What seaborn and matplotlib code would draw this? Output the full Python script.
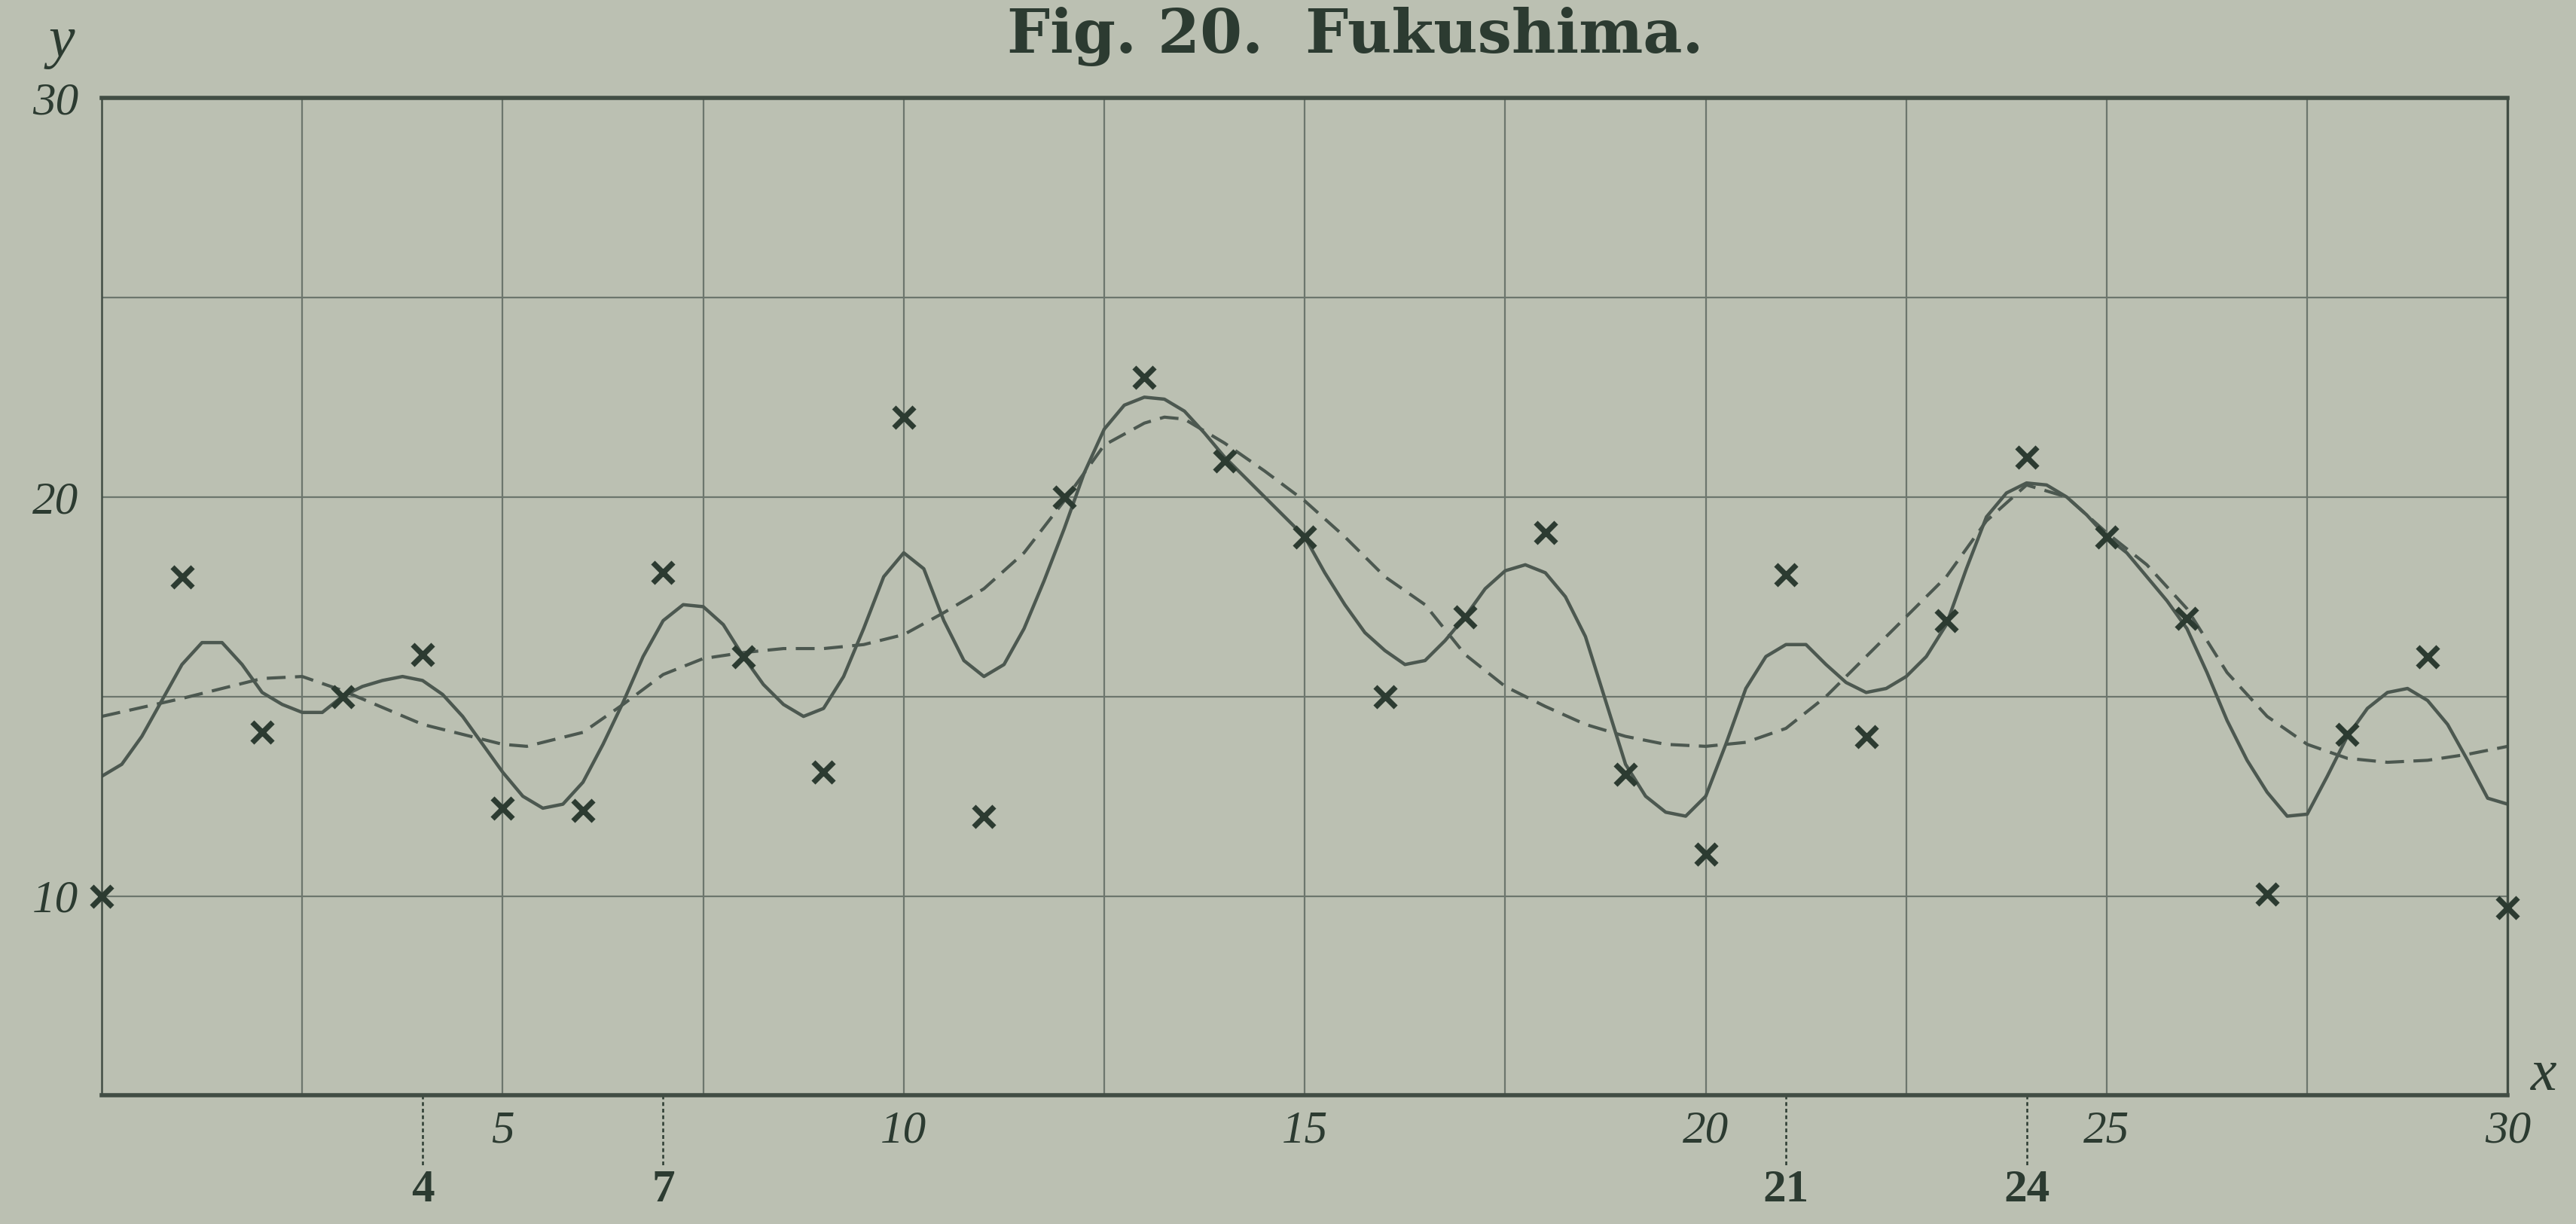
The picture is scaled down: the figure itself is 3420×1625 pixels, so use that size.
import numpy as np
import matplotlib
matplotlib.use("Agg")
import matplotlib.pyplot as plt
import seaborn as sns

# ------------------------------------------------------------
# Fig. 20 Fukushima -- observations (x) with two fitted curves
# ------------------------------------------------------------

obs_x = list(range(0, 31))
obs_y = [10.0, 18.0, 14.1, 15.0, 16.05, 12.2, 12.15, 18.1, 16.0, 13.1,
         22.0, 12.0, 20.0, 23.0, 20.9, 19.0, 15.0, 17.0, 19.1, 13.05,
         11.05, 18.05, 14.0, 16.9, 21.0, 19.0, 16.95, 10.05, 14.05, 16.0, 9.7]

# solid curve, read every quarter unit
solid_x = [i * 0.25 for i in range(121)]
solid_y = [13.0, 13.3, 14.0, 14.9, 15.8, 16.35, 16.35, 15.8, 15.1, 14.8,
           14.6, 14.6, 15.0, 15.25, 15.4, 15.5, 15.4, 15.05, 14.5, 13.8,
           13.1, 12.5, 12.2, 12.3, 12.85, 13.8, 14.85, 16.0, 16.9, 17.3,
           17.25, 16.8, 16.0, 15.3, 14.8, 14.5, 14.7, 15.5, 16.7, 18.0,
           18.6, 18.2, 16.9, 15.9, 15.5, 15.8, 16.7, 17.9, 19.2, 20.6,
           21.7, 22.3, 22.5, 22.45, 22.15, 21.6, 21.0, 20.5, 20.0, 19.5,
           19.0, 18.1, 17.3, 16.6, 16.15, 15.8, 15.9, 16.4, 17.0, 17.7,
           18.15, 18.3, 18.1, 17.5, 16.5, 14.9, 13.3, 12.5, 12.1, 12.0,
           12.5, 13.8, 15.2, 16.0, 16.3, 16.3, 15.8, 15.35, 15.1, 15.2,
           15.5, 16.0, 16.8, 18.2, 19.5, 20.1, 20.35, 20.3, 20.0, 19.55,
           19.0, 18.6, 18.0, 17.4, 16.7, 15.6, 14.4, 13.4, 12.6, 12.0,
           12.05, 13.0, 14.0, 14.7, 15.1, 15.2, 14.9, 14.3, 13.4, 12.45,
           12.3]

# dashed curve
dashed_x = [0, 1, 2, 2.5, 3, 4, 5, 5.3, 6, 6.5, 7, 7.5, 8, 8.5, 9, 9.5,
            10, 10.5, 11, 11.5, 12, 12.5, 13, 13.25, 13.5, 14, 14.5, 15,
            15.5, 16, 16.5, 17, 17.5, 18, 18.5, 19, 19.5, 20, 20.5, 21,
            21.5, 22, 22.5, 23, 23.5, 24, 24.5, 25, 25.5, 26, 26.5, 27,
            27.5, 28, 28.5, 29, 29.5, 30]
dashed_y = [14.5, 14.95, 15.45, 15.5, 15.15, 14.3, 13.8, 13.75, 14.1, 14.8,
            15.55, 15.95, 16.1, 16.2, 16.2, 16.3, 16.55, 17.1, 17.7, 18.6,
            19.9, 21.3, 21.85, 22.0, 21.95, 21.35, 20.65, 19.9, 19.0, 18.0,
            17.3, 16.05, 15.25, 14.75, 14.3, 14.0, 13.8, 13.75, 13.85, 14.2,
            15.0, 16.0, 17.0, 18.0, 19.4, 20.3, 20.0, 19.1, 18.3, 17.2,
            15.6, 14.5, 13.8, 13.45, 13.35, 13.4, 13.55, 13.75]

x_ticks = [2.5, 5, 7.5, 10, 12.5, 15, 17.5, 20, 22.5, 25, 27.5, 30]
x_labels = ["", "5", "", "10", "", "15", "", "20", "", "25", "", "30"]
y_ticks = [10, 15, 20, 25, 30]
y_labels = ["10", "", "20", "", "30"]
mark_x = [4, 7, 21, 24]
mark_labels = ["4", "7", "21", "24"]

paper = "#bbc0b2"
ink = "#2c3b31"
line_col = "#4c5850"
grid_col = "#6c766d"

sns.set_theme(style="white", rc={"figure.facecolor": paper, "axes.facecolor": paper})
plt.rcParams["font.family"] = ["Liberation Serif", "DejaVu Serif"]

fig = plt.figure(figsize=(17.1, 8.125), dpi=200)
ax = fig.add_axes([0.0395, 0.105, 0.934, 0.815])

sns.lineplot(x=solid_x, y=solid_y, ax=ax, color=line_col, lw=1.6,
             sort=False, estimator=None)
sns.lineplot(x=dashed_x, y=dashed_y, ax=ax, color=line_col, lw=1.5,
             sort=False, estimator=None, linestyle=(0, (6, 3)))
sns.scatterplot(x=obs_x, y=obs_y, ax=ax, marker="x", s=95, color=ink,
                linewidth=2.6, zorder=5, clip_on=False)

ax.set_xlim(0, 30)
ax.set_ylim(5, 30)
ax.set_xticks(x_ticks)
ax.set_xticklabels(x_labels, fontstyle="italic", fontsize=22, color=ink)
ax.set_yticks(y_ticks)
ax.set_yticklabels(y_labels, fontstyle="italic", fontsize=22, color=ink)
ax.tick_params(axis="x", length=0, pad=7)
ax.tick_params(axis="y", length=0, pad=11)
ax.grid(True, color=grid_col, lw=0.8)
ax.set_axisbelow(True)

for side, lw in [("top", 2.0), ("bottom", 2.0), ("left", 0.9), ("right", 1.2)]:
    ax.spines[side].set_visible(True)
    ax.spines[side].set_color("#414d44")
    ax.spines[side].set_linewidth(lw)

# extra marks below the x axis
xt = ax.get_xaxis_transform()
for mx, ml in zip(mark_x, mark_labels):
    ax.plot([mx, mx], [0, -0.07], transform=xt, color=ink, lw=0.9,
            ls=(0, (2, 1.5)), clip_on=False)
    ax.text(mx, -0.095, ml, transform=xt, ha="center", va="center",
            fontsize=22, fontweight="bold", color=ink)

ax.text(30.45, 5.5, "x", fontsize=28, fontstyle="italic", color=ink,
        ha="center", va="center", clip_on=False)
ax.text(-0.5, 31.4, "y", fontsize=28, fontstyle="italic", color=ink,
        ha="center", va="center", clip_on=False)

fig.text(0.526, 0.97, "Fig. 20.  Fukushima.", fontsize=29, fontweight="bold",
         family="DejaVu Serif", color=ink, ha="center", va="center")

fig.savefig("out.png", dpi=200, facecolor=paper)
